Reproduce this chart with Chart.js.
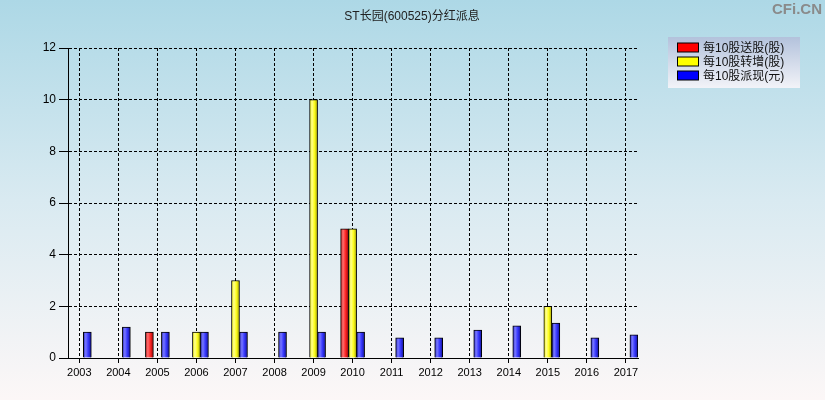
<!DOCTYPE html>
<html>
<head>
<meta charset="utf-8">
<title>ST长园(600525)分红派息</title>
<script src="https://cdn.jsdelivr.net/npm/chart.js@4.4.0/dist/chart.umd.min.js"></script>
<style>
html, body { margin: 0; padding: 0; background: #fff; }
</style>
</head>
<body>
<canvas id="fhChart" width="825" height="400"></canvas>
<script>
// 分红数据 (每10股)
const years = [2003, 2004, 2005, 2006, 2007, 2008, 2009, 2010, 2011, 2012, 2013, 2014, 2015, 2016, 2017];
const songGu = [0, 0, 1, 0, 0, 0, 0, 5, 0, 0, 0, 0, 0, 0, 0];
const zhuanZeng = [0, 0, 0, 1, 3, 0, 10, 5, 0, 0, 0, 0, 2, 0, 0];
const paiXian = [1.0, 1.2, 1.0, 1.0, 1.0, 1.0, 1.0, 1.0, 0.78, 0.78, 1.08, 1.25, 1.35, 0.78, 0.9];
const yTicks = [0, 2, 4, 6, 8, 10, 12];

const chartTitle = 'ST长园(600525)分红派息';
const seriesNames = ['每10股送股(股)', '每10股转增(股)', '每10股派现(元)'];
const seriesColors = ['#ff0000', '#ffff00', '#0000ff'];
const barShades = [
    ['#b81818', '#ff7070', '#ff2a2a', '#a00000'],
    ['#e6e600', '#ffff90', '#ffff20', '#a8a800'],
    ['#2828c0', '#7878ff', '#3a3aff', '#10109a']
];

const FONT = '"Liberation Sans", "Noto Sans CJK SC", sans-serif';
const BAR_W = 8;

function toPoints(vals) {
    return years.map(function(y, i) {
        return { x: y, y: vals[i] === 0 ? null : vals[i] };
    });
}

// 柱子的横向渐变
function barFill(ctx) {
    const ds = ctx.datasetIndex;
    if (ctx.type !== 'data' || !ctx.chart.scales || !ctx.chart.scales.x) return seriesColors[ds];
    const xs = ctx.chart.scales.x;
    const cx = xs.getPixelForValue(years[ctx.dataIndex]) + (ds - 1) * BAR_W;
    if (!isFinite(cx)) return seriesColors[ds];
    const g = ctx.chart.ctx.createLinearGradient(cx - BAR_W / 2, 0, cx + BAR_W / 2, 0);
    const s = barShades[ds];
    g.addColorStop(0, s[0]);
    g.addColorStop(0.3, s[1]);
    g.addColorStop(0.6, s[2]);
    g.addColorStop(1, s[3]);
    return g;
}

const bgPlugin = {
    id: 'bgPlugin',
    beforeDraw: function(chart) {
        const c = chart.ctx;
        const g = c.createLinearGradient(0, 0, 0, chart.height);
        g.addColorStop(0, '#add8e6');
        g.addColorStop(0.5, '#d9eaf1');
        g.addColorStop(1, '#fcf7f7');
        c.save();
        c.fillStyle = g;
        c.fillRect(0, 0, chart.width, chart.height);
        c.restore();
    },
    afterDraw: function(chart) {
        const c = chart.ctx;
        c.save();
        // 标题
        c.font = '12px ' + FONT;
        c.fillStyle = '#222';
        c.textAlign = 'center';
        c.textBaseline = 'middle';
        c.fillText(chartTitle, 412, 17);

        // 水印
        c.font = 'bold 15px ' + FONT;
        c.fillStyle = '#8a8a8a';
        c.textAlign = 'right';
        c.fillText('CFi.CN', 822, 10);

        // 图例
        const lg = c.createLinearGradient(0, 37, 0, 88);
        lg.addColorStop(0, '#b3c2dc');
        lg.addColorStop(1, '#f2f3f8');
        c.fillStyle = lg;
        c.fillRect(668, 37, 132, 51);
        c.font = '12px ' + FONT;
        c.textAlign = 'left';
        for (let i = 0; i < seriesNames.length; i++) {
            const yc = 47.5 + i * 14;
            c.fillStyle = seriesColors[i];
            c.fillRect(677, yc - 4.5, 22, 9);
            c.strokeStyle = '#000';
            c.lineWidth = 1;
            c.strokeRect(677.5, yc - 4.5, 21, 9);
            c.fillStyle = '#111';
            c.fillText(seriesNames[i], 703, yc + 1);
        }
        c.restore();
    }
};

const datasets = [songGu, zhuanZeng, paiXian].map(function(vals, i) {
    return {
        label: seriesNames[i],
        data: toPoints(vals),
        backgroundColor: barFill,
        borderColor: '#000',
        borderWidth: 1,
        borderSkipped: 'bottom',
        barThickness: BAR_W
    };
});

new Chart(document.getElementById('fhChart').getContext('2d'), {
    type: 'bar',
    data: { datasets: datasets },
    plugins: [bgPlugin],
    options: {
        responsive: false,
        animation: false,
        events: [],
        layout: { padding: { top: 48, right: 187, bottom: 0, left: 0 } },
        plugins: {
            legend: { display: false },
            title: { display: false },
            tooltip: { enabled: false }
        },
        scales: {
            x: {
                type: 'linear',
                offset: false,
                min: 2002.71,
                max: 2017.31,
                afterFit: function(s) { s.height = 42; },
                afterBuildTicks: function(s) {
                    s.ticks = years.map(function(v) { return { value: v }; });
                },
                grid: {
                    offset: false,
                    color: '#000',
                    tickLength: 5,
                    tickBorderDash: []
                },
                border: { display: true, color: '#000', width: 1, dash: [3, 2] },
                ticks: {
                    autoSkip: false,
                    maxRotation: 0,
                    padding: 3,
                    color: '#000',
                    font: { size: 11, family: FONT },
                    callback: function(v) { return String(v); }
                }
            },
            y: {
                min: 0,
                max: 12,
                afterFit: function(s) { s.width = 68; },
                afterBuildTicks: function(s) {
                    s.ticks = yTicks.map(function(v) { return { value: v }; });
                },
                grid: {
                    color: '#000',
                    tickLength: 9,
                    tickBorderDash: []
                },
                border: { display: true, color: '#000', width: 1, dash: [3, 2] },
                ticks: {
                    padding: 3,
                    color: '#000',
                    font: { size: 12, family: FONT }
                }
            }
        }
    }
});
</script>
</body>
</html>
